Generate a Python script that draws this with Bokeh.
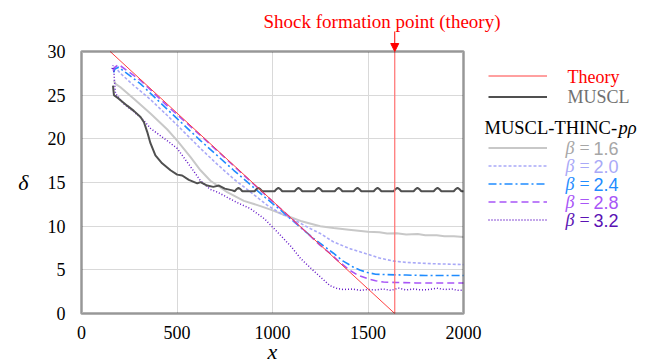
from bokeh.plotting import figure
from bokeh.models import (Range1d, Label, Arrow, NormalHead, Legend, LegendItem, FixedTicker,
                          Grid, LinearAxis, BoxAnnotation)
from bokeh.embed import file_html
from bokeh.resources import INLINE

# ---------------- data ----------------
theory_x = [150, 1640]
theory_y = [30, 0]
shock_x = 1640

muscl_x = [165, 167, 170, 195, 239, 274, 309, 327, 344, 361, 387, 422, 466, 501, 527, 562, 606, 623,
           658, 690, 720, 750, 790,
           802, 812, 822, 832, 842, 895, 906, 916, 926, 936, 946, 1000, 1011, 1021, 1031, 1041, 1051,
           1105, 1116, 1126, 1136, 1146, 1156, 1210, 1221, 1231, 1241, 1251, 1261,
           1315, 1326, 1336, 1346, 1356, 1366, 1415, 1425, 1435, 1445, 1455, 1465,
           1520, 1530, 1540, 1550, 1560, 1570, 1624, 1634, 1644, 1654, 1664, 1674,
           1729, 1739, 1749, 1759, 1769, 1779, 1834, 1844, 1854, 1864, 1874, 1884,
           1939, 1949, 1959, 1969, 1979, 1989, 2000]
muscl_y = [26.1, 25.6, 25.0, 24.6, 23.8, 23.2, 22.5, 21.9, 20.8, 19.5, 18.1, 17.2, 16.4, 15.9, 15.8,
           15.3, 14.9, 15.05, 14.65, 14.5, 14.65, 14.3, 14.1,
           14.0, 14.25, 14.38, 14.25, 14.0, 14.0, 14.0, 14.25, 14.38, 14.25, 14.0, 14.0, 14.0, 14.25,
           14.38, 14.25, 14.0, 14.0, 14.0, 14.25, 14.38, 14.25, 14.0, 14.0, 14.0, 14.25, 14.38, 14.25,
           14.0, 14.0, 14.0, 14.25, 14.38, 14.25, 14.0, 14.0, 14.0, 14.25, 14.38, 14.25, 14.0,
           14.0, 14.0, 14.25, 14.38, 14.25, 14.0, 14.0, 14.0, 14.25, 14.38, 14.25, 14.0,
           14.0, 14.0, 14.25, 14.38, 14.25, 14.0, 14.0, 14.0, 14.25, 14.38, 14.25, 14.0,
           14.0, 14.0, 14.25, 14.38, 14.25, 14.0, 14.0]

b16_x = [169, 178, 204, 274, 361, 448, 501, 571, 623, 675, 763, 850, 937, 990, 1060, 1147, 1250,
         1320, 1400, 1500, 1560, 1600, 1650, 1700, 1760, 1800, 1860, 1900, 1950, 2000]
b16_y = [26.7, 26.3, 25.9, 24.6, 22.9, 21.1, 19.8, 17.9, 16.4, 15.2, 13.9, 12.9, 12.3, 11.9, 11.3,
         10.6, 10.0, 9.8, 9.6, 9.35, 9.3, 9.15, 9.2, 9.05, 9.1, 8.95, 8.95, 8.85, 8.85, 8.75]

b20_x = [169, 180, 204, 274, 361, 448, 536, 623, 710, 797, 885, 972, 1040, 1110, 1200, 1251, 1319,
         1408, 1497, 1560, 1635, 1700, 1843, 2000]
b20_y = [28.0, 28.1, 27.5, 26.1, 24.5, 22.7, 20.8, 18.9, 17.1, 15.4, 13.9, 12.4, 11.5, 10.75, 9.7,
         9.15, 8.2, 7.4, 6.8, 6.35, 6.0, 5.85, 5.7, 5.6]

b24_x = [168, 175, 195, 309, 448, 623, 797, 972, 1050, 1150, 1215, 1270, 1319, 1370, 1424, 1460,
         1497, 1540, 1600, 1700, 1800, 1900, 2000]
b24_y = [27.6, 28.0, 28.2, 26.3, 23.4, 19.8, 16.4, 13.1, 11.7, 9.8, 8.6, 7.7, 6.9, 6.0, 5.3, 4.95,
         4.7, 4.5, 4.45, 4.4, 4.35, 4.35, 4.35]

b28_x = [165, 175, 195, 309, 448, 623, 797, 972, 1150, 1250, 1300, 1350, 1408, 1450, 1497, 1540,
         1581, 1650, 1750, 1850, 2000]
b28_y = [27.8, 28.2, 28.5, 26.7, 23.8, 20.4, 16.9, 13.4, 9.85, 7.8, 6.9, 5.9, 4.9, 4.35, 4.0, 3.75,
         3.6, 3.55, 3.5, 3.5, 3.5]

b32_x = [160, 166, 170, 173, 178, 222, 274, 327, 361, 448, 501, 571, 623, 675, 712, 763, 815, 885,
         960, 1040, 1100, 1147, 1200, 1250, 1300, 1340, 1372, 1420, 1460, 1500, 1540, 1580, 1620,
         1660, 1700, 1740, 1780, 1820, 1860, 1900, 1940, 1970, 2000]
b32_y = [28.0, 28.4, 27.6, 26.5, 25.2, 24.0, 23.1, 22.1, 21.2, 19.8, 18.9, 16.8, 15.2, 14.2, 13.9,
         13.3, 12.7, 12.0, 10.8, 9.0, 7.6, 6.3, 5.2, 4.2, 3.2, 2.85, 2.75, 2.8, 2.65, 2.75, 2.7, 2.8,
         2.65, 2.9, 2.7, 2.8, 2.7, 2.75, 2.9, 2.75, 2.8, 2.65, 2.65]

x_ticks = [0, 500, 1000, 1500, 2000]
y_ticks = [0, 5, 10, 15, 20, 25, 30]
x_lim = (0, 2000)
y_lim = (0, 30)

# ---------------- geometry ----------------
W, H = 650, 364
FL, FR, FT, FB = 81, 463, 51, 313          # pixel box of the plotting area
KX = (x_lim[1] - x_lim[0]) / (FR - FL)     # data units per pixel
KY = (y_lim[1] - y_lim[0]) / (FB - FT)

def dx(px):
    return x_lim[0] + (px - FL) * KX

def dy(py):
    return y_lim[0] + (FB - py) * KY

# the frame covers the whole canvas so nothing outside the data box is clipped
p = figure(width=W, height=H, output_backend="svg", toolbar_location=None,
           x_range=Range1d(dx(0), dx(W)), y_range=Range1d(dy(H), dy(0)),
           x_axis_location=None, y_axis_location=None, min_border=0)
p.center = []
p.outline_line_color = None
p.background_fill_color = "white"
p.border_fill_color = "white"

xgrid = Grid(dimension=0, ticker=FixedTicker(ticks=x_ticks), bounds=x_lim,
             grid_line_color="#d9d9d9", grid_line_width=1)
ygrid = Grid(dimension=1, ticker=FixedTicker(ticks=y_ticks), bounds=y_lim,
             grid_line_color="#d9d9d9", grid_line_width=1)
has_cross = "cross_bounds" in Grid.properties()
if has_cross:
    xgrid.cross_bounds = y_lim
    ygrid.cross_bounds = x_lim
p.add_layout(xgrid, "center")
p.add_layout(ygrid, "center")
if not has_cross:
    for l, r, b, t in [(dx(0), x_lim[0], dy(H), dy(0)), (x_lim[1], dx(W), dy(H), dy(0)),
                       (dx(0), dx(W), y_lim[1], dy(0)), (dx(0), dx(W), dy(H), y_lim[0])]:
        p.add_layout(BoxAnnotation(left=l, right=r, bottom=b, top=t, fill_color="white",
                                   fill_alpha=1, line_alpha=0, level="underlay"))

def style_axis(ax):
    ax.axis_line_color = None
    ax.major_tick_line_color = None
    ax.minor_tick_line_color = None
    ax.major_tick_out = 0
    ax.major_tick_in = 0
    ax.minor_tick_out = 0
    ax.minor_tick_in = 0
    ax.major_label_text_font = "Liberation Serif"
    ax.major_label_text_font_size = "18px"
    ax.major_label_text_color = "black"
    ax.axis_label_text_font = "Liberation Serif"
    ax.axis_label_text_font_style = "italic"
    ax.axis_label_text_font_size = "22px"
    ax.axis_label_text_color = "black"

xax = LinearAxis(fixed_location=y_lim[0], ticker=FixedTicker(ticks=x_ticks), bounds=x_lim,
                 axis_label="x")
style_axis(xax)
xax.major_label_standoff = 12
xax.axis_label_standoff = -3
p.add_layout(xax, "below")

has_orient = "axis_label_orientation" in LinearAxis.properties()
yax = LinearAxis(fixed_location=x_lim[0], ticker=FixedTicker(ticks=y_ticks), bounds=y_lim,
                 axis_label="δ" if has_orient else None)
style_axis(yax)
yax.major_label_standoff = 16
yax.axis_label_standoff = 16
if has_orient:
    yax.axis_label_orientation = "horizontal"
p.add_layout(yax, "left")
if not has_orient:
    p.add_layout(Label(x=dx(23), y=dy(181), text="δ", text_font="Liberation Serif",
                       text_font_style="italic", text_font_size="22px", text_color="black",
                       text_align="center", text_baseline="middle"))

# ---------------- series ----------------
r_b16 = p.line(b16_x, b16_y, line_color="#c8c8c8", line_width=2)
r_b20 = p.line(b20_x, b20_y, line_color="#a9a9f7", line_width=1.6, line_dash="3 2")
r_b24 = p.line(b24_x, b24_y, line_color="#1f8cff", line_width=1.6, line_dash="8 3 2 3")
r_b28 = p.line(b28_x, b28_y, line_color="#a855f7", line_width=1.6, line_dash="7 4")
r_b32 = p.line(b32_x, b32_y, line_color="#6418c8", line_width=1.5, line_dash="1 2")
r_muscl = p.line(muscl_x, muscl_y, line_color="#505050", line_width=2)
r_theory = p.line(theory_x, theory_y, line_color="#ff4040", line_width=1)
p.line([shock_x, shock_x], [y_lim[0], y_lim[1]], line_color="#ff7070", line_width=1.2)

# plot box border
p.add_layout(BoxAnnotation(left=x_lim[0], right=x_lim[1], bottom=y_lim[0], top=y_lim[1],
                           fill_alpha=0, line_color="black", line_width=3))

# arrow + label for shock point
p.add_layout(Arrow(x_start=shock_x, y_start=dy(31), x_end=shock_x, y_end=y_lim[1],
                   line_color="red", line_width=1,
                   end=NormalHead(size=8, fill_color="red", line_color="red")))
p.add_layout(Label(x=dx(381.5), y=dy(21), text="Shock formation point (theory)",
                   text_font="Liberation Serif", text_font_size="19px", text_color="red",
                   text_align="center", text_baseline="middle"))

# ---------------- legend ----------------
def mk_legend(items, gh, sp, loc):
    lg = Legend(items=items, location=loc, orientation="vertical",
                glyph_width=59, glyph_height=gh, label_height=gh, label_width=0,
                label_standoff=0, spacing=sp, padding=0, margin=0,
                label_text_font_size="1px", border_line_color=None,
                background_fill_alpha=0)
    p.add_layout(lg, "center")

mk_legend([LegendItem(label=" ", renderers=[r_theory]),
           LegendItem(label=" ", renderers=[r_muscl])], 21, 0, (488, H - 107))
mk_legend([LegendItem(label=" ", renderers=[r]) for r in (r_b16, r_b20, r_b24, r_b28, r_b32)],
          17, 1, (488, H - 228))

def lab(px, py, text, color, font="Liberation Serif", style="normal", size="18px"):
    p.add_layout(Label(x=dx(px), y=dy(py), text=text, text_font=font, text_font_style=style,
                       text_font_size=size, text_color=color, text_align="left",
                       text_baseline="middle"))

lab(567, 76, "Theory", "red")
lab(567, 96, "MUSCL", "#707070")
lab(484, 127, "MUSCL-THINC-", "black", size="18.5px")
lab(618, 127, "pρ", "black", style="italic", size="18.5px")

beta_labels = ["1.6", "2.0", "2.4", "2.8", "3.2"]
beta_colors = ["#a6a6a6", "#a9a9f7", "#1f8cff", "#a855f7", "#5a12b4"]
beta_rows = [147.5, 165.5, 183.5, 201.5, 219.5]
for t, c, yy in zip(beta_labels, beta_colors, beta_rows):
    lab(565, yy, "β", c, style="italic")
    lab(579, yy, "=", c)
    lab(593, yy, t, c, font="Liberation Sans")

open("out.html", "w").write(file_html(p, INLINE))
